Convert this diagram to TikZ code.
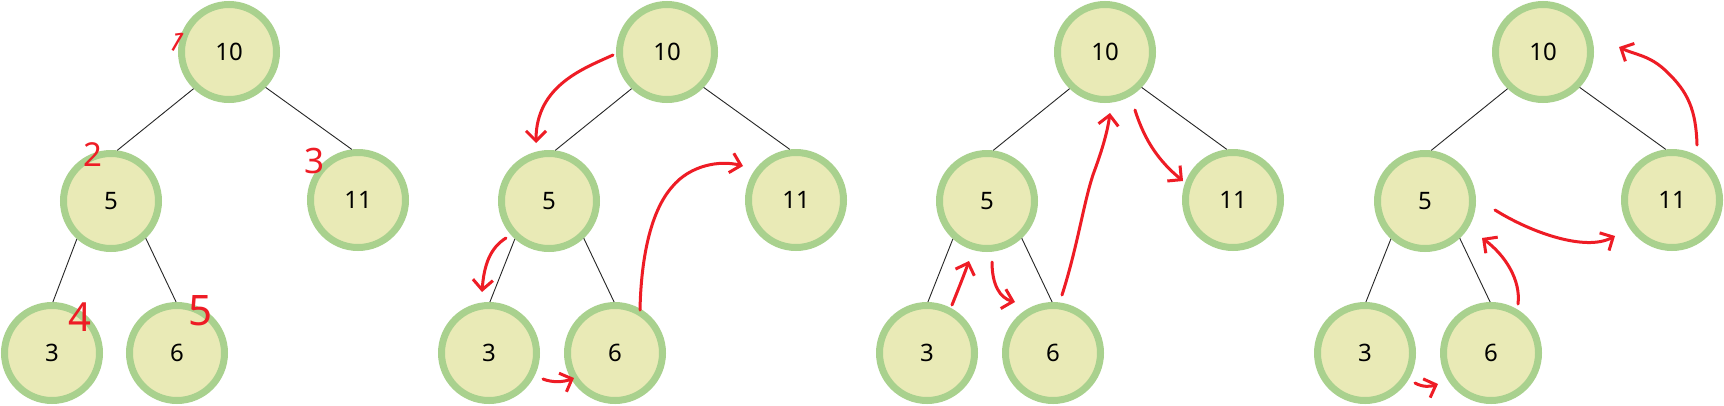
\documentclass[tikz,border=0pt]{standalone}
\usepackage{fontspec}
\setmainfont{Noto Sans}
\usetikzlibrary{arrows.meta}
\definecolor{nodefill}{HTML}{E9EAB6}
\definecolor{nodeline}{HTML}{A9D18E}
\definecolor{pen}{HTML}{EE1C25}
\begin{document}
\begin{tikzpicture}[x=1pt,y=-1pt,
  hnode/.style={circle,draw=nodeline,fill=nodefill,line width=7pt,minimum size=95pt,inner sep=0pt,font=\fontsize{24}{28}\selectfont},
  tedge/.style={draw=black!85,line width=0.9pt},
  redpen/.style={draw=pen,line width=3pt,line cap=round,line join=round,-{Straight Barb[length=10pt,width=20pt]}},
  hand/.style={text=pen,inner sep=0pt}]
\useasboundingbox[fill=white] (0,0) rectangle (1724,405);

% ---------- tree 1 ----------
\node[hnode] (A10) at (229,52) {10};
\node[hnode] (A5) at (111,201) {5};
\node[hnode] (A11) at (358,200) {11};
\node[hnode] (A3) at (52,353) {3};
\node[hnode] (A6) at (177,353) {6};
\draw[tedge] (A10.226) -- (A5.83);
\draw[tedge] (A10.316) -- (A11.97);
\draw[tedge] (A5.228) -- (A3.89);
\draw[tedge] (A5.313) -- (A6.91);
\node[hand,font=\fontsize{28}{28}\selectfont,rotate=-30] (n1) at (177,42) {1};
\node[hand,font=\fontsize{33}{33}\selectfont] (n2) at (93,155) {2};
\node[hand,font=\fontsize{35}{35}\selectfont] (n3) at (315,161) {3};
\node[hand,font=\fontsize{40}{40}\selectfont] (n4) at (80,317) {4};
\node[hand,font=\fontsize{42}{42}\selectfont] (n5) at (201,311) {5};

% ---------- tree 2 ----------
\node[hnode] (B10) at (667,52) {10};
\node[hnode] (B5) at (549,201) {5};
\node[hnode] (B11) at (796,200) {11};
\node[hnode] (B3) at (489,353) {3};
\node[hnode] (B6) at (615,353) {6};
\draw[tedge] (B10.226) -- (B5.83);
\draw[tedge] (B10.316) -- (B11.97);
\draw[tedge] (B5.228) -- (B3.89);
\draw[tedge] (B5.313) -- (B6.91);
\coordinate (b1s) at (613,55);  \coordinate (b1e) at (536,143);
\coordinate (b2s) at (506,238); \coordinate (b2e) at (482,292);
\coordinate (b3s) at (543,379); \coordinate (b3e) at (574,378);
\coordinate (b4s) at (640,310); \coordinate (b4m) at (672,187); \coordinate (b4e) at (743,166);
\draw[redpen] (b1s) .. controls (585,68) and (536,85) .. (b1e);
\draw[redpen] (b2s) .. controls (490,248) and (484,265) .. (b2e);
\draw[redpen] (b3s) .. controls (553,383) and (564,382) .. (b3e);
\draw[redpen] (b4s) .. controls (641,260) and (650,212) .. (b4m) .. controls (690,165) and (720,160) .. (b4e);

% ---------- tree 3 ----------
\node[hnode] (C10) at (1105,52) {10};
\node[hnode] (C5) at (987,201) {5};
\node[hnode] (C11) at (1233,200) {11};
\node[hnode] (C3) at (927,353) {3};
\node[hnode] (C6) at (1053,353) {6};
\draw[tedge] (C10.226) -- (C5.83);
\draw[tedge] (C10.316) -- (C11.97);
\draw[tedge] (C5.228) -- (C3.89);
\draw[tedge] (C5.313) -- (C6.91);
\coordinate (c1s) at (952,305);  \coordinate (c1e) at (969,261);
\coordinate (c2s) at (992,262);  \coordinate (c2e) at (1015,302);
\coordinate (c3s) at (1062,295); \coordinate (c3m) at (1094,172); \coordinate (c3e) at (1110,113);
\coordinate (c4s) at (1135,110); \coordinate (c4e) at (1183,181);
\draw[redpen] (c1s) .. controls (958,290) and (964,275) .. (c1e);
\draw[redpen] (c2s) .. controls (992,285) and (1000,298) .. (c2e);
\draw[redpen] (c3s) .. controls (1078,245) and (1084,200) .. (c3m) .. controls (1104,145) and (1108,128) .. (c3e);
\draw[redpen] (c4s) .. controls (1145,142) and (1160,162) .. (c4e);

% ---------- tree 4 ----------
\node[hnode] (D10) at (1543,52) {10};
\node[hnode] (D5) at (1425,201) {5};
\node[hnode] (D11) at (1672,200) {11};
\node[hnode] (D3) at (1365,353) {3};
\node[hnode] (D6) at (1491,353) {6};
\draw[tedge] (D10.226) -- (D5.83);
\draw[tedge] (D10.316) -- (D11.97);
\draw[tedge] (D5.228) -- (D3.89);
\draw[tedge] (D5.313) -- (D6.91);
\coordinate (d1s) at (1697,145); \coordinate (d1m) at (1667,72); \coordinate (d1e) at (1619,47);
\coordinate (d2s) at (1495,210); \coordinate (d2e) at (1615,236);
\coordinate (d3s) at (1518,304); \coordinate (d3e) at (1482,238);
\coordinate (d4s) at (1415,383); \coordinate (d4e) at (1438,384);
\draw[redpen] (d1s) .. controls (1696,110) and (1688,92) .. (d1m) .. controls (1650,55) and (1635,55) .. (d1e);
\draw[redpen] (d2s) .. controls (1530,232) and (1585,252) .. (d2e);
\draw[redpen] (d3s) .. controls (1521,280) and (1505,255) .. (d3e);
\draw[redpen] (d4s) .. controls (1422,387) and (1430,387) .. (d4e);
\end{tikzpicture}
\end{document}
